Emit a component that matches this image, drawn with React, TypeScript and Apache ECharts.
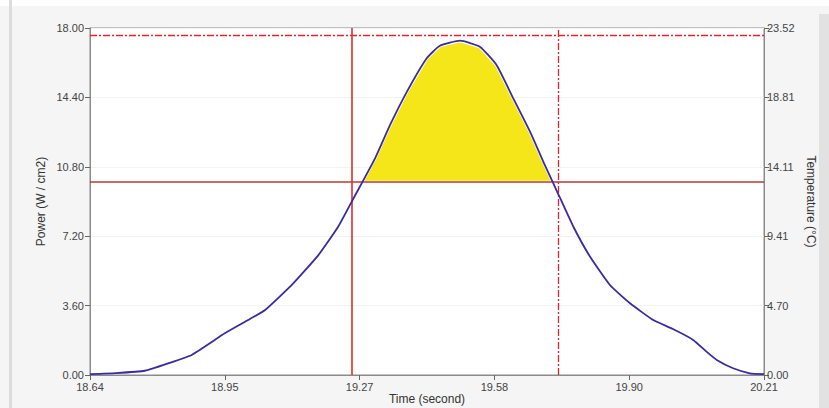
import React, { useEffect, useRef } from "react";
import * as echarts from "echarts";

const timeS = [18.64, 18.7, 18.768, 18.822, 18.877, 18.954, 19.001, 19.048, 19.11, 19.172, 19.218, 19.253, 19.304, 19.339, 19.378, 19.424, 19.455, 19.502, 19.548, 19.587, 19.626, 19.665, 19.696, 19.727, 19.766, 19.805, 19.851, 19.898, 19.952, 19.999, 20.045, 20.076, 20.1, 20.138, 20.177, 20.21];
const power = [0.05, 0.1, 0.22, 0.6, 1.04, 2.16, 2.76, 3.37, 4.67, 6.22, 7.69, 9.13, 11.24, 12.97, 14.69, 16.42, 17.08, 17.34, 17.03, 16.08, 14.35, 12.62, 11.06, 9.57, 7.69, 6.13, 4.67, 3.72, 2.85, 2.37, 1.82, 1.21, 0.78, 0.35, 0.09, 0.05];

const xTicks = [18.64, 18.954, 19.268, 19.582, 19.896, 20.21];
const leftTicks = [0, 3.6, 7.2, 10.8, 14.4, 18];
const rightTicks = [0, 4.7032, 9.4064, 14.1096, 18.8128, 23.516];

const thresholdPower = 10;
const upperPower = 17.6;
const startTime = 19.253;
const endTime = 19.729;

function buildFill(): number[][] {
  const pts: number[][] = [];
  for (let i = 1; i < timeS.length; i++) {
    const t0 = timeS[i - 1], t1 = timeS[i], v0 = power[i - 1], v1 = power[i];
    if ((v0 - thresholdPower) * (v1 - thresholdPower) < 0) {
      const f = (thresholdPower - v0) / (v1 - v0);
      pts.push([t0 + f * (t1 - t0), thresholdPower]);
    }
    if (v1 > thresholdPower) pts.push([t1, v1]);
  }
  return pts;
}

export default function App() {
  const ref = useRef<HTMLDivElement>(null);
  useEffect(() => {
    document.body.style.margin = "0";
    const chart = echarts.init(ref.current!, undefined, { renderer: "svg" });
    const fillPts = buildFill();
    const font = "Liberation Sans, Arial, sans-serif";
    const labelStyle = { color: "#444", fontSize: 11, fontFamily: font };
    chart.setOption({
      animation: false,
      backgroundColor: "#f5f5f5",
      graphic: [
        { type: "rect", shape: { x: 0, y: 0, width: 829, height: 6 }, style: { fill: "#ffffff" }, z: -10 },
        { type: "rect", shape: { x: 9, y: 0, width: 3, height: 408 }, style: { fill: "#dcdcdc" }, z: -10 },
        { type: "rect", shape: { x: 819, y: 14, width: 10, height: 394 }, style: { fill: "#e2e2e2" }, z: -10 },
      ],
      grid: {
        left: 90,
        right: 65,
        top: 28,
        bottom: 33,
        outerBoundsMode: "none",
        containLabel: false,
        show: true,
        backgroundColor: "#ffffff",
        borderColor: "#8a8a8a",
        borderWidth: 1,
      },
      xAxis: {
        type: "value",
        min: 18.64,
        max: 20.21,
        name: "Time (second)",
        nameLocation: "middle",
        nameGap: 18,
        nameMoveOverlap: false,
        nameTextStyle: { color: "#333", fontSize: 12, fontFamily: font },
        axisLine: { lineStyle: { color: "#8a8a8a" } },
        axisTick: { show: true, length: 5, customValues: xTicks, lineStyle: { color: "#666" } },
        axisLabel: {
          ...labelStyle,
          margin: 6,
          customValues: xTicks,
          formatter: (v: number) => v.toFixed(2),
        },
        splitLine: { show: false },
      },
      yAxis: [
        {
          type: "value",
          min: 0,
          max: 18,
          interval: 3.6,
          name: "Power (W / cm2)",
          nameLocation: "middle",
          nameGap: 43,
          nameMoveOverlap: false,
          nameTextStyle: { color: "#333", fontSize: 12, fontFamily: font },
          axisLine: { show: true, lineStyle: { color: "#8a8a8a" } },
          axisTick: { show: true, length: 5, lineStyle: { color: "#666" } },
          axisLabel: { ...labelStyle, margin: 6, formatter: (v: number) => v.toFixed(2) },
          splitLine: { show: true, lineStyle: { color: "#f3f3f3" } },
        },
        {
          type: "value",
          position: "right",
          min: 0,
          max: 23.516,
          alignTicks: false,
          name: "Temperature (°C)",
          nameLocation: "middle",
          nameGap: 41,
          nameRotate: -90,
          nameMoveOverlap: false,
          nameTextStyle: { color: "#333", fontSize: 12, fontFamily: font },
          axisLine: { show: true, lineStyle: { color: "#8a8a8a" } },
          axisTick: { show: true, length: 5, customValues: rightTicks, lineStyle: { color: "#666" } },
          axisLabel: {
            ...labelStyle,
            margin: 3,
            customValues: rightTicks,
            formatter: (v: number) => v.toFixed(2),
          },
          splitLine: { show: false },
        },
      ],
      series: [
        {
          type: "custom",
          name: "fill",
          silent: true,
          z: 1,
          data: [0],
          renderItem: (params: any, api: any) => {
            const points = fillPts.map((p) => api.coord([p[0], p[1]]));
            return {
              type: "polygon",
              shape: { points },
              style: { fill: "#f4e618", stroke: "#ffffff", lineWidth: 3, lineJoin: "round" },
            };
          },
        },
        {
          type: "line",
          name: "Power",
          data: timeS.map((t, i) => [t, power[i]]),
          showSymbol: false,
          smooth: 0.15,
          z: 5,
          lineStyle: { color: "#3a2ba0", width: 1.8 },
          markLine: {
            silent: true,
            symbol: "none",
            label: { show: false },
            animation: false,
            data: [
              { yAxis: thresholdPower, lineStyle: { color: "#b83a32", width: 1.6, type: "solid" } },
              { yAxis: upperPower, lineStyle: { color: "#e0242c", width: 1.3, type: [7, 2, 2, 2] } },
              { xAxis: startTime, lineStyle: { color: "#d8312c", width: 1.6, type: "solid" } },
              { xAxis: endTime, lineStyle: { color: "#e0242c", width: 1.3, type: [7, 2, 2, 2] } },
            ],
          },
        },
      ],
    });
    return () => chart.dispose();
  }, []);
  return <div ref={ref} style={{ position: "absolute", left: 0, top: 0, width: 829, height: 408 }} />;
}
